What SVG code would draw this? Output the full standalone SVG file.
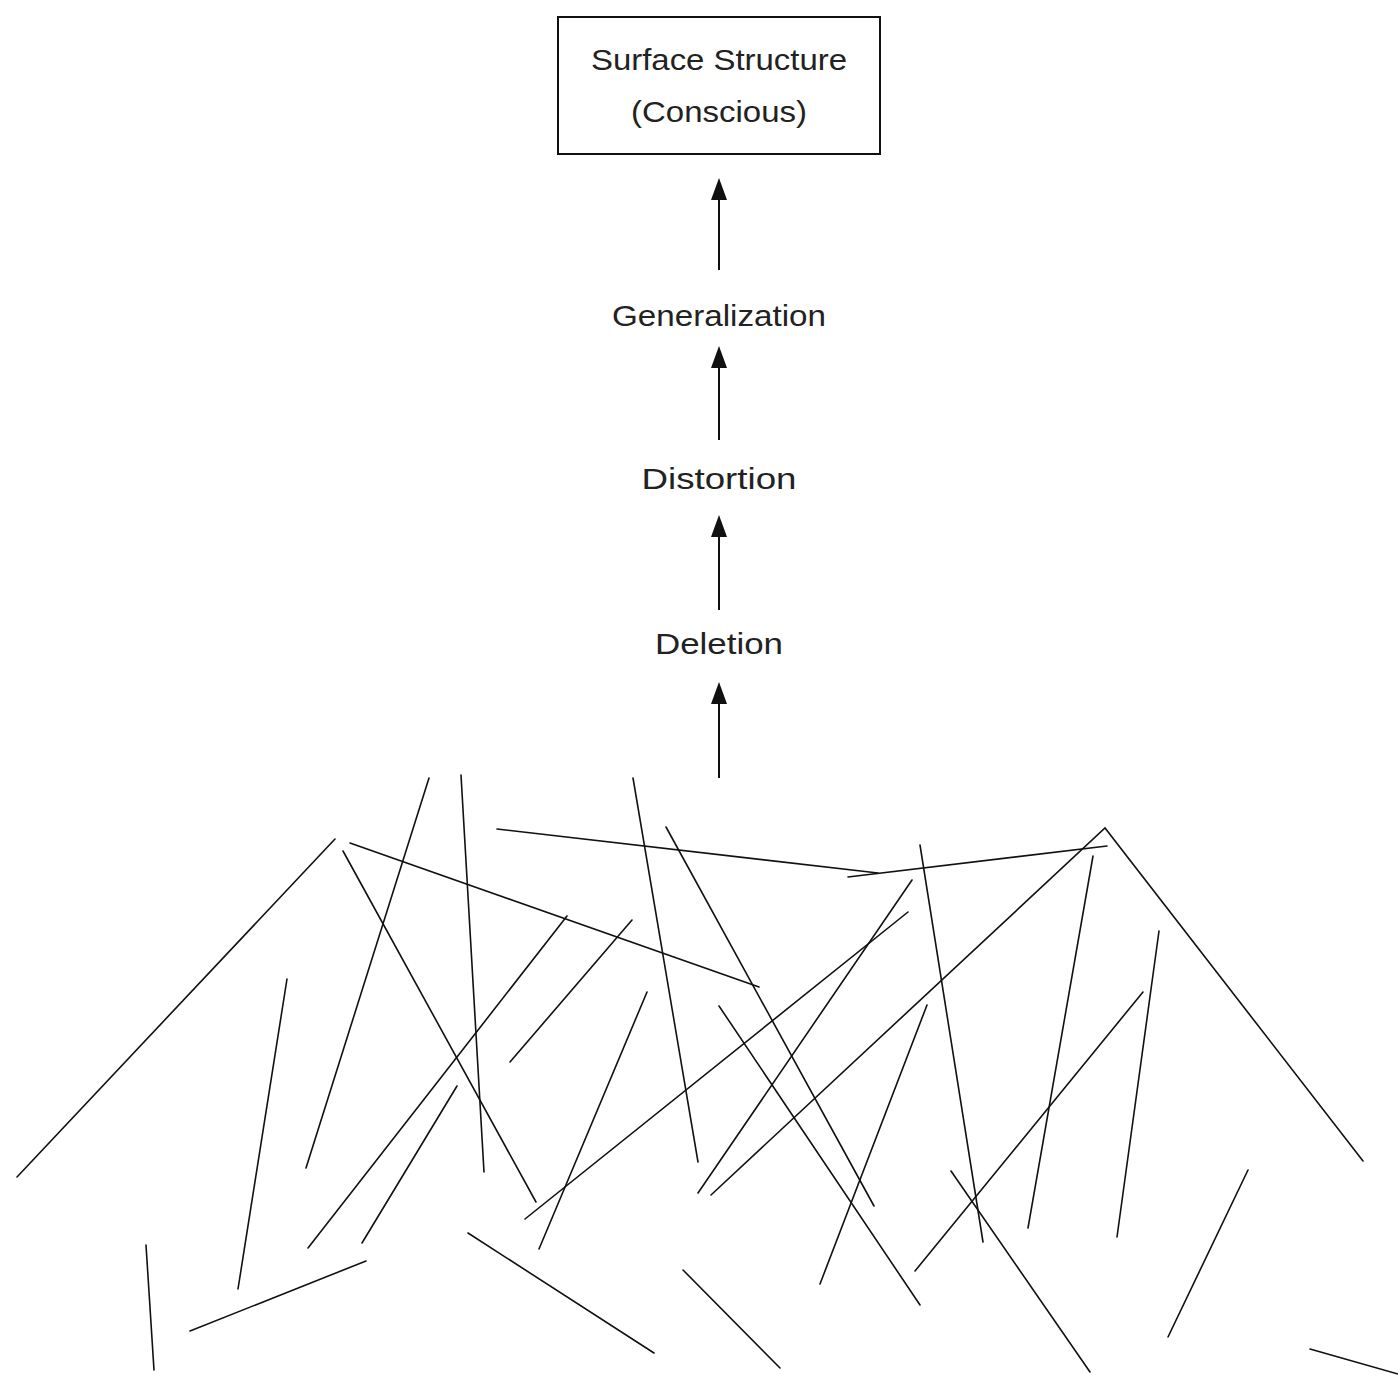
<svg xmlns="http://www.w3.org/2000/svg" width="1398" height="1375" viewBox="0 0 1398 1375">
<style>
.lbl{font-family:"Liberation Sans",Arial,sans-serif;font-size:30px;fill:#222;text-anchor:middle}
.ln{stroke:#111;stroke-width:1.6;fill:none;stroke-linecap:round;stroke-linejoin:miter}
.ar{stroke:#111;stroke-width:2;fill:none;marker-end:url(#ah)}
</style>
<defs>
<marker id="ah" markerWidth="16" markerHeight="22" refX="8" refY="4" orient="auto-start-reverse" markerUnits="userSpaceOnUse" viewBox="0 0 16 22">
<polygon points="8,0 0,22 16,22" fill="#111" transform="rotate(90 8 11)"/>
</marker>
</defs>
<rect width="1398" height="1375" fill="#fff"/>
<g id="surface">
<rect x="558" y="17" width="322" height="137" fill="#fff" stroke="#111" stroke-width="2"/>
<text class="lbl" x="719" y="70" textLength="256" lengthAdjust="spacingAndGlyphs">Surface Structure</text>
<text class="lbl" x="719" y="122" textLength="176" lengthAdjust="spacingAndGlyphs">(Conscious)</text>
</g>
<g id="generalization"><text class="lbl" x="719" y="326" textLength="214" lengthAdjust="spacingAndGlyphs">Generalization</text></g>
<g id="distortion"><text class="lbl" x="719" y="489" textLength="155" lengthAdjust="spacingAndGlyphs">Distortion</text></g>
<g id="deletion"><text class="lbl" x="719" y="654" textLength="128" lengthAdjust="spacingAndGlyphs">Deletion</text></g>
<g id="connectors">
<line x1="719" y1="270" x2="719" y2="196" stroke="#111" stroke-width="2"/>
<polygon points="719,178 711,200 727,200" fill="#111"/>
<line x1="719" y1="440" x2="719" y2="364" stroke="#111" stroke-width="2"/>
<polygon points="719,346 711,368 727,368" fill="#111"/>
<line x1="719" y1="610" x2="719" y2="533" stroke="#111" stroke-width="2"/>
<polygon points="719,515 711,537 727,537" fill="#111"/>
<line x1="719" y1="778" x2="719" y2="700" stroke="#111" stroke-width="2"/>
<polygon points="719,682 711,704 727,704" fill="#111"/>
</g>
<g id="tangle">
<polyline class="ln" points="17,1177 335,839"/>
<line class="ln" x1="343" y1="851" x2="536" y2="1202"/>
<line class="ln" x1="350" y1="843" x2="759" y2="987"/>
<line class="ln" x1="429" y1="778" x2="306" y2="1168"/>
<line class="ln" x1="461" y1="775" x2="484" y2="1172"/>
<line class="ln" x1="287" y1="979" x2="238" y2="1289"/>
<line class="ln" x1="146" y1="1245" x2="154" y2="1370"/>
<line class="ln" x1="190" y1="1331" x2="366" y2="1261"/>
<line class="ln" x1="308" y1="1248" x2="567" y2="916"/>
<line class="ln" x1="362" y1="1243" x2="457" y2="1086"/>
<line class="ln" x1="510" y1="1062" x2="632" y2="920"/>
<line class="ln" x1="497" y1="829" x2="878" y2="873"/>
<line class="ln" x1="848" y1="877" x2="1107" y2="846"/>
<line class="ln" x1="633" y1="778" x2="698" y2="1162"/>
<line class="ln" x1="666" y1="827" x2="874" y2="1206"/>
<line class="ln" x1="719" y1="1006" x2="920" y2="1305"/>
<line class="ln" x1="647" y1="992" x2="539" y2="1249"/>
<line class="ln" x1="525" y1="1219" x2="908" y2="912"/>
<line class="ln" x1="698" y1="1193" x2="912" y2="880"/>
<polyline class="ln" points="711,1195 1105,828 1363,1161"/>
<line class="ln" x1="920" y1="845" x2="983" y2="1242"/>
<line class="ln" x1="1093" y1="856" x2="1028" y2="1228"/>
<line class="ln" x1="1159" y1="931" x2="1117" y2="1237"/>
<line class="ln" x1="1143" y1="992" x2="915" y2="1271"/>
<line class="ln" x1="927" y1="1005" x2="820" y2="1284"/>
<line class="ln" x1="951" y1="1171" x2="1090" y2="1372"/>
<line class="ln" x1="1248" y1="1170" x2="1168" y2="1337"/>
<line class="ln" x1="1310" y1="1349" x2="1398" y2="1374"/>
<line class="ln" x1="468" y1="1233" x2="654" y2="1353"/>
<line class="ln" x1="683" y1="1270" x2="780" y2="1368"/>
</g>
</svg>
